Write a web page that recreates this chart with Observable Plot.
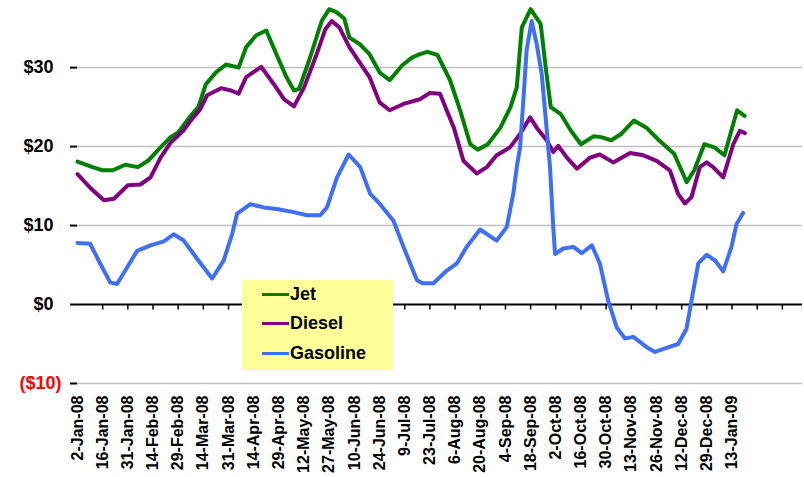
<!DOCTYPE html>
<html><head><meta charset="utf-8">
<script src="https://cdn.jsdelivr.net/npm/d3@7"></script>
<script src="https://cdn.jsdelivr.net/npm/@observablehq/plot@0.6"></script>
<style>
body{margin:0;background:#fff;}
#wrap{position:relative;width:804px;height:477px;font-family:"Liberation Sans",Arial,sans-serif;}
#legend{position:absolute;left:242px;top:280px;width:151px;height:90px;background:#ffff99;}
#legend .row{position:absolute;left:20px;height:20px;display:flex;align-items:center;font-weight:bold;font-size:18px;color:#000;}
#legend .sw{width:27px;height:3px;margin-right:1px;}
</style></head><body>
<div id="wrap"><div id="chart"></div><div id="legend"></div></div>
<script>
const dateLabels = ["2-Jan-08","16-Jan-08","31-Jan-08","14-Feb-08","29-Feb-08","14-Mar-08","31-Mar-08","14-Apr-08","29-Apr-08","12-May-08","27-May-08","10-Jun-08","24-Jun-08","9-Jul-08","23-Jul-08","6-Aug-08","20-Aug-08","4-Sep-08","18-Sep-08","2-Oct-08","16-Oct-08","30-Oct-08","13-Nov-08","26-Nov-08","12-Dec-08","29-Dec-08","13-Jan-09"];
const labelDays = dateLabels.map((d, i) => i * 10);
const axisTickDays = [10,20,30,40,50,60,70,80,90,100,110,120,130,140,150,160,170,180,190,200,210,220,230,240,250,260,270,280];
const posTicks = [0, 10, 20, 30];
const negTicks = [-10];
const gridVals = [-10, 10, 20, 30];

const seriesNames = ["Jet", "Diesel", "Gasoline"];
const seriesColors = ["#008000", "#800080", "#3f6ff5"];

const jetDay = [0,6,10,14,19,24,28,33,37,40,45,48,51,55,59,64,67,71,75,79,83,86,88,92,97,100,103,106,108,112,116,120,124,129,133,136,139,143,148,152,156,159,163,168,172,174.5,176.5,180,184,186,188,192,196,200,205,208,212,216,221,226,231,237,242,245,249,253,257,262,265];
const jetVal = [18.1,17.4,17.0,17.0,17.7,17.4,18.2,19.9,21.2,21.8,23.9,25.0,27.9,29.4,30.4,30.0,32.6,34.1,34.7,31.7,28.8,27.1,27.3,30.9,35.9,37.4,37.0,36.2,33.8,33.0,31.7,29.4,28.4,30.3,31.3,31.7,32.0,31.6,28.4,24.6,20.3,19.6,20.3,22.4,25.0,27.5,35.1,37.4,35.5,30.0,25.0,24.1,22.0,20.3,21.3,21.2,20.8,21.6,23.3,22.4,20.8,19.1,15.5,17.0,20.3,19.9,18.9,24.6,23.9];

const dieselDay = [0,5,10.5,14.5,20,25,29,33,37,42,46,48.5,51.5,57,61,64,67,73,78,82,86,90,95,98.5,101,104,108,112,116,120,124,129.5,136,140,144,147.3,149.5,153.3,158.6,162.6,166.5,171.8,175.8,179.8,182.4,186.4,189,191,194.4,198.4,203.6,207.5,212.8,219.5,224.8,230.1,235.3,238.6,241.3,243.9,247.2,249.9,252.5,256.5,260.5,263.1,265.1];
const dieselVal = [16.5,14.8,13.2,13.4,15.1,15.2,16.1,18.6,20.5,22.0,23.7,24.6,26.5,27.4,27.1,26.7,28.8,30.1,27.9,26.0,25.1,27.5,31.7,34.9,35.9,35.1,32.6,30.7,28.8,25.6,24.6,25.4,26.0,26.8,26.7,24.1,22.4,18.2,16.6,17.4,18.9,19.9,21.6,23.7,22.4,20.8,19.3,20.1,18.6,17.2,18.6,19.0,18.0,19.2,18.9,18.2,17.0,14.0,12.8,13.6,17.4,18.0,17.4,16.1,20.3,22.0,21.7];

const gasDay = [0,5,9,13,15.7,19.7,23.7,29,34.3,38.2,42.2,47.5,53.5,58.1,61.4,63.4,68.7,74,79.2,85.8,91.2,96.4,99.1,103.1,107.7,112.3,116.3,120.2,125.5,129.5,134.8,137,141.4,146.7,150.7,154.6,159.9,166.5,170.5,173.1,174.5,175.8,177.1,178.4,180.4,182.4,184.4,185.7,187.7,189,189.7,193,197,200.3,204.3,207.5,210.8,214.2,217.5,220.8,226.1,229.4,234,238.6,241.9,243.9,246.6,249.9,253.2,256.5,259.8,261.8,264.4];
const gasVal = [7.8,7.7,5.2,2.8,2.6,4.7,6.8,7.5,8.0,8.9,8.1,5.8,3.3,5.6,8.9,11.5,12.7,12.3,12.1,11.7,11.3,11.3,12.3,16.1,19.0,17.4,14.0,12.7,10.6,7.3,3.1,2.7,2.7,4.3,5.2,7.3,9.5,8.1,9.8,14.0,17.4,19.9,25.8,32.2,35.9,33.0,29.2,24.6,17.4,9.8,6.4,7.1,7.3,6.5,7.5,5.2,0.5,-2.9,-4.3,-4.1,-5.4,-6.0,-5.5,-5.0,-3.1,0.5,5.2,6.3,5.6,4.2,7.3,10.2,11.6];

const seriesDays = [jetDay, dieselDay, gasDay];
const seriesVals = [jetVal, dieselVal, gasVal];

const lineMarks = seriesNames.map((name, s) =>
  Plot.line(seriesDays[s].map((d, i) => ({day: d, value: seriesVals[s][i]})),
    {x: "day", y: "value", stroke: seriesColors[s], strokeWidth: 4, strokeLinejoin: "round", strokeLinecap: "round"}));

const chart = Plot.plot({
  width: 804, height: 477,
  marginLeft: 77, marginRight: 2, marginTop: 0, marginBottom: 94,
  x: {domain: [0, 288], label: null},
  y: {domain: [-10, 38.5], label: null},
  style: {fontFamily: "Liberation Sans, Arial, sans-serif", background: "white", color: "black"},
  marks: [
    Plot.ruleY(gridVals, {stroke: "#c0c0c0", strokeWidth: 1.5}),
    Plot.ruleY([0], {stroke: "black", strokeWidth: 2}),
    Plot.ruleX(axisTickDays, {y1: 0, y2: -0.7, stroke: "black", strokeWidth: 1.5}),
    Plot.axisY(posTicks, {label: null, tickSize: 7, tickPadding: 17, tickFormat: d => "$" + d, fontSize: 18, fontWeight: "bold", strokeWidth: 2}),
    Plot.axisY(negTicks, {label: null, tickSize: 7, tickPadding: 9, tickFormat: d => "($" + (-d) + ")", fontSize: 18, fontWeight: "bold", color: "#ff0000", stroke: "black", strokeWidth: 2}),
    Plot.axisX(labelDays, {label: null, tickSize: 0, tickPadding: 12, tickRotate: -90, tickFormat: d => dateLabels[Math.round(d / 10)], fontSize: 16, fontWeight: "bold"}),
    ...lineMarks
  ]
});
document.getElementById("chart").appendChild(chart);

const legend = document.getElementById("legend");
seriesNames.forEach((name, s) => {
  const row = document.createElement("div");
  row.className = "row";
  row.style.top = (4 + s * 29.5) + "px";
  const sw = document.createElement("span");
  sw.className = "sw";
  sw.style.background = seriesColors[s];
  const tx = document.createElement("span");
  tx.textContent = name;
  row.appendChild(sw); row.appendChild(tx);
  legend.appendChild(row);
});
</script>
</body></html>
